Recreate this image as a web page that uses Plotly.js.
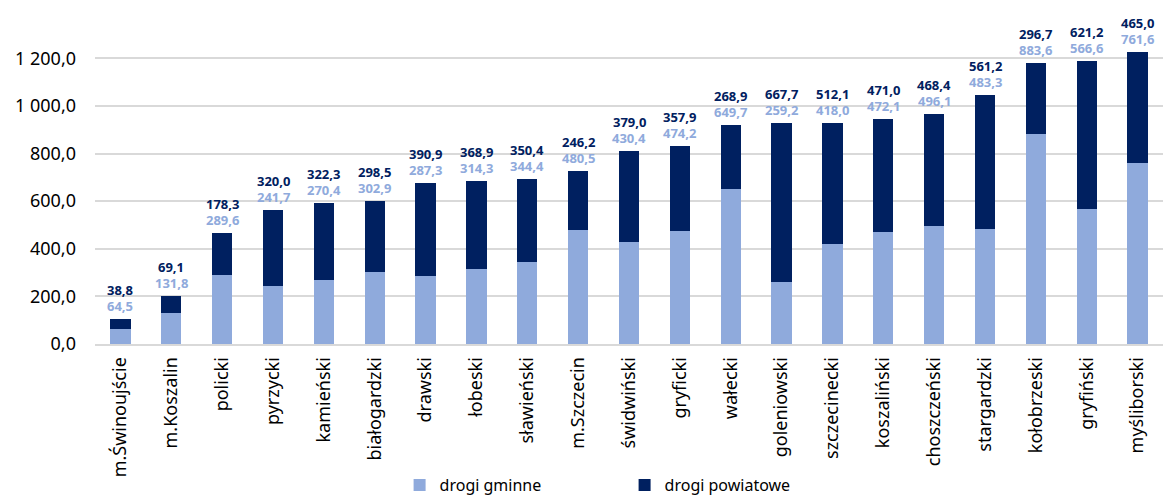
<!DOCTYPE html>
<html>
<head>
<meta charset="utf-8">
<script src="https://cdn.plot.ly/plotly-3.0.1.min.js"></script>
<style>html,body{margin:0;padding:0;background:#fff;}#chart{width:1165px;height:502px;}</style>
</head>
<body>
<div id="chart"></div>
<script>
const categories = ["m.Świnoujście","m.Koszalin","policki","pyrzycki","kamieński","białogardzki","drawski","łobeski","sławieński","m.Szczecin","świdwiński","gryficki","wałecki","goleniowski","szczecinecki","koszaliński","choszczeński","stargardzki","kołobrzeski","gryfiński","myśliborski"];
const drogiGminne = [64.5,131.8,289.6,241.7,270.4,302.9,287.3,314.3,344.4,480.5,430.4,474.2,649.7,259.2,418.0,472.1,496.1,483.3,883.6,566.6,761.6];
const drogiPowiatowe = [38.8,69.1,178.3,320.0,322.3,298.5,390.9,368.9,350.4,246.2,379.0,357.9,268.9,667.7,512.1,471.0,468.4,561.2,296.7,621.2,465.0];
const yTicks = [0,200,400,600,800,1000,1200];

const colLight = "#8FAADC";
const colDark = "#002060";
const fontFam = "Noto Sans, Open Sans, sans-serif";

function fmt(v){ return v.toFixed(1).replace('.', ','); }

const totals = drogiGminne.map((v,i)=>v+drogiPowiatowe[i]);
const annotations = [];
categories.forEach((c,i)=>{
  annotations.push({x:c, y:totals[i], text:'<b>'+fmt(drogiGminne[i])+'</b>', showarrow:false, yanchor:'middle', yshift:13, borderpad:0, font:{family:fontFam, size:13, color:colLight}});
  annotations.push({x:c, y:totals[i], text:'<b>'+fmt(drogiPowiatowe[i])+'</b>', showarrow:false, yanchor:'middle', yshift:29, borderpad:0, font:{family:fontFam, size:13, color:colDark}});
});

const data = [
  {type:'bar', name:'drogi gminne', x:categories, y:drogiGminne, marker:{color:colLight}, hoverinfo:'skip'},
  {type:'bar', name:'drogi powiatowe', x:categories, y:drogiPowiatowe, marker:{color:colDark}, hoverinfo:'skip'}
];

const layout = {
  width:1165, height:502,
  margin:{l:95, r:2, t:13, b:158, autoexpand:false},
  barmode:'stack',
  bargap:0.6,
  separators:', ',
  paper_bgcolor:'#fff', plot_bgcolor:'#fff',
  font:{family:fontFam, color:'#000'},
  xaxis:{type:'category', automargin:false, tickangle:-90, tickfont:{family:fontFam, size:18, color:'#000'}, showline:true, linecolor:'#d9d9d9', linewidth:2, ticks:'', showgrid:false, ticklabelstandoff:4},
  yaxis:{automargin:false, range:[0,1390], tickvals:yTicks, tickformat:',.1f', tickfont:{family:fontFam, size:18, color:'#000'}, gridcolor:'#d9d9d9', gridwidth:2, zeroline:false, showline:false, ticklabelstandoff:18},
  showlegend:true,
  legend:{orientation:'h', xref:'container', x:0.343, xanchor:'left', yref:'container', y:-0.012, yanchor:'bottom', font:{family:fontFam, size:16, color:'#000'}, entrywidth:180, traceorder:'normal', itemwidth:30},
  annotations:annotations
};

Plotly.newPlot('chart', data, layout, {displayModeBar:false, staticPlot:true});
</script>
</body>
</html>
